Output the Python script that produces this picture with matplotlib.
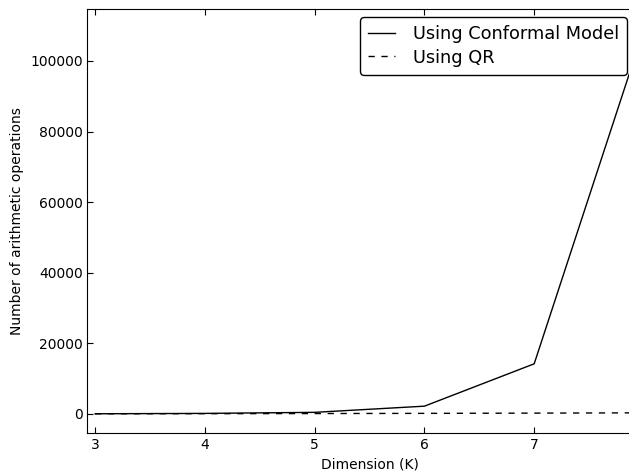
import matplotlib
matplotlib.use("Agg")
import matplotlib.pyplot as plt

# Dimension K and operation counts
dims = [3, 4, 5, 6, 7, 8]
conformal_ops = [50, 150, 450, 2200, 14200, 109000]
qr_ops = [40, 70, 110, 160, 230, 310]

plt.rcParams['font.family'] = 'DejaVu Sans'
plt.rcParams['xtick.direction'] = 'in'
plt.rcParams['ytick.direction'] = 'in'

fig = plt.figure(figsize=(6.29, 4.74), dpi=100)
# axes run past the right edge of the picture, as in the original crop
ax = fig.add_axes([0.139, 0.0865, 0.897, 0.8945])

ax.plot(dims, conformal_ops, color='black', linewidth=1, label='Using Conformal Model')
ax.plot(dims, qr_ops, color='black', linewidth=1, linestyle='--', dashes=(4.5, 4.8),
        label='Using QR')

ax.set_xlim(2.93, 8.07)
ax.set_ylim(-5400, 114700)
ax.set_xticks([3, 4, 5, 6, 7])
ax.set_yticks([0, 20000, 40000, 60000, 80000, 100000])
ax.tick_params(axis='both', labelsize=10, length=4, top=True, right=True)

ax.set_xlabel('Dimension (K)', fontsize=10, labelpad=4)
ax.set_ylabel('Number of arithmetic operations', fontsize=10)

leg = fig.legend(loc='upper right', bbox_to_anchor=(0.9965, 0.9635), borderaxespad=0,
                 fontsize=12.8, fancybox=True, frameon=True, framealpha=1,
                 edgecolor='black', handlelength=1.5, handletextpad=1.0,
                 borderpad=0.45, labelspacing=0.3)
leg.get_frame().set_linewidth(1)

fig.savefig('out.png', dpi=100)
